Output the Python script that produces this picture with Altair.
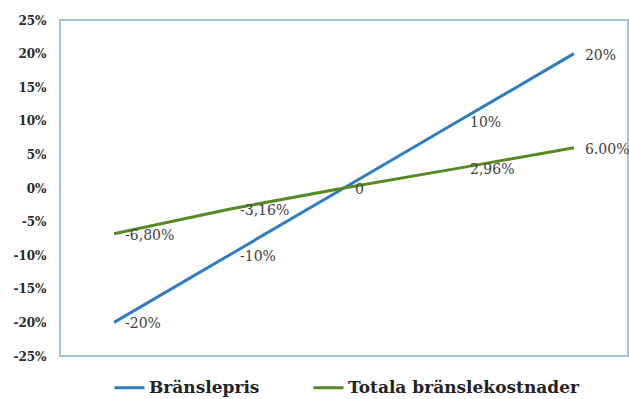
import altair as alt
import pandas as pd

# --- data ---
steps = ["1", "2", "3", "4", "5"]
series_names = ["Bränslepris", "Totala bränslekostnader"]
bransle_values = [-20, -10, 0, 10, 20]
totala_values = [-6.80, -3.16, 0, 2.96, 6.00]
bransle_labels = ["-20%", "-10%", "0", "10%", "20%"]
totala_labels = ["-6,80%", "-3,16%", "", "2,96%", "6.00%"]
y_ticks = [-25, -20, -15, -10, -5, 0, 5, 10, 15, 20, 25]

rows = []
for s, v, l in zip(steps, bransle_values, bransle_labels):
    rows.append({"steg": s, "serie": series_names[0], "varde": v, "etikett": l})
for s, v, l in zip(steps, totala_values, totala_labels):
    rows.append({"steg": s, "serie": series_names[1], "varde": v, "etikett": l})
df = pd.DataFrame(rows)

blue = "#2F7BC4"
green = "#558A24"

base = alt.Chart(df).encode(
    x=alt.X("steg:O", sort=steps, scale=alt.Scale(type="point", padding=0.47), axis=None),
    y=alt.Y(
        "varde:Q",
        scale=alt.Scale(domain=[-25, 25], nice=False, zero=False),
        axis=alt.Axis(
            values=y_ticks,
            labelExpr="datum.value + '%'",
            grid=False,
            domain=False,
            ticks=False,
            labelPadding=14,
            labelFont="DejaVu Serif",
            labelFontSize=12,
            labelFontWeight="bold",
            labelColor="#2a2a2a",
            title=None,
        ),
    ),
)

lines = base.mark_line(strokeWidth=3).encode(
    color=alt.Color(
        "serie:N",
        scale=alt.Scale(domain=series_names, range=[blue, green]),
        legend=alt.Legend(
            title=None,
            orient="none",
            legendX=53,
            legendY=351,
            direction="horizontal",
            columns=2,
            symbolType="stroke",
            symbolSize=900,
            symbolStrokeWidth=3,
            labelFont="DejaVu Serif",
            labelFontWeight="bold",
            labelFontSize=17,
            labelColor="#222222",
            columnPadding=47,
            labelOffset=3,
            labelLimit=400,
        ),
    ),
    detail="serie:N",
)

texts = base.mark_text(
    align="left",
    baseline="middle",
    dx=11,
    dy=2,
    font="DejaVu Serif",
    fontSize=14,
).encode(
    text="etikett:N",
    color=alt.value("#404040"),
    detail="serie:N",
)

chart = (
    alt.layer(lines, texts)
    .properties(
        width=568,
        height=336,
        autosize=alt.AutoSizeParams(type="none"),
        padding={"left": 60, "top": 20, "right": 1, "bottom": 43},
        background="white",
    )
    .configure_view(stroke="#9DC3E6", strokeWidth=2)
)

chart.save("out.html", embed_options={"renderer": "svg", "actions": False})
